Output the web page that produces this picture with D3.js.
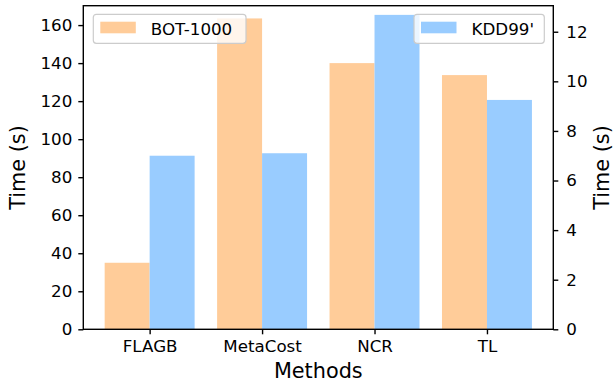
<!DOCTYPE html>
<html>
<head>
<meta charset="utf-8">
<script src="https://cdn.jsdelivr.net/npm/d3@7"></script>
<style>
  body { margin: 0; background: #fff; }
  svg text { font-family: "DejaVu Sans", sans-serif; fill: #000; }
</style>
</head>
<body>
<div id="graph"></div>
<script>
// chart data
const methods = ["FLAGB", "MetaCost", "NCR", "TL"];
const bot1000 = [35.0, 163.5, 140.0, 133.7];   // left axis
const kdd99 = [7.0, 7.1, 12.68, 9.25];         // right axis
const leftTicks = [0, 20, 40, 60, 80, 100, 120, 140, 160];
const rightTicks = [0, 2, 4, 6, 8, 10, 12];

const W = 615, H = 385;
const L = 83.3, R = 553.3, T = 5.7, B = 329.3;

const svg = d3.select("#graph").append("svg").attr("width", W).attr("height", H);

/* scales */
const x = d3.scaleLinear().domain([-0.59, 3.59]).range([L, R]);
const yL = d3.scaleLinear().domain([0, 170.2]).range([B, T]);
const yR = d3.scaleLinear().domain([0, 13.05]).range([B, T]);
const bw = 0.4;

/* orange bars (BOT-1000) */
svg.append("g").selectAll("rect")
    .data(bot1000)
    .enter()
    .append("rect")
    .attr("x", (d, i) => x(i - bw))
    .attr("y", d => yL(d))
    .attr("width", (d, i) => x(i) - x(i - bw))
    .attr("height", d => B - yL(d))
    .style("fill", "#ffcc99");

/* legend box */
function legend(x0, x1, label, color) {
    const g = svg.append("g");
    g.append("rect")
        .attr("x", x0).attr("y", 14.3)
        .attr("width", x1 - x0).attr("height", 29)
        .attr("rx", 3)
        .style("fill", "rgba(255,255,255,0.8)")
        .style("stroke", "#cccccc")
        .style("stroke-width", 1.2);
    g.append("rect")
        .attr("x", x0 + 7).attr("y", 21.7)
        .attr("width", 35.5).attr("height", 11.6)
        .style("fill", color);
    g.append("text")
        .attr("x", x0 + 57.5).attr("y", 34.5)
        .style("font-size", "16.7px")
        .text(label);
}
legend(93.3, 246, "BOT-1000", "#ffcc99");

/* blue bars (KDD99') */
svg.append("g").selectAll("rect")
    .data(kdd99)
    .enter()
    .append("rect")
    .attr("x", (d, i) => x(i))
    .attr("y", d => yR(d))
    .attr("width", (d, i) => x(i + bw) - x(i))
    .attr("height", d => B - yR(d))
    .style("fill", "#99ccff");

legend(414, 544.3, "KDD99'", "#99ccff");

/* axes */
function styleAxis(g) {
    g.selectAll("text").style("font-size", "16.7px").style("font-family", "DejaVu Sans");
    g.selectAll("line").style("stroke", "#000").style("stroke-width", 1.4);
    g.select(".domain").remove();
}

svg.append("g")
    .attr("transform", "translate(0," + B + ")")
    .call(d3.axisBottom(x).tickValues([0, 1, 2, 3]).tickFormat(i => methods[i]).tickSize(5).tickPadding(6))
    .call(styleAxis);

svg.append("g")
    .attr("transform", "translate(" + L + ",0)")
    .call(d3.axisLeft(yL).tickValues(leftTicks).tickSize(5).tickPadding(6))
    .call(styleAxis);

svg.append("g")
    .attr("transform", "translate(" + R + ",0)")
    .call(d3.axisRight(yR).tickValues(rightTicks).tickSize(5).tickPadding(8))
    .call(styleAxis);

/* frame */
svg.append("rect")
    .attr("x", L).attr("y", T)
    .attr("width", R - L).attr("height", B - T)
    .style("fill", "none")
    .style("stroke", "#000")
    .style("stroke-width", 1.4);

/* labels */
svg.append("text")
    .attr("x", (L + R) / 2).attr("y", 378)
    .attr("text-anchor", "middle")
    .style("font-size", "20.8px")
    .text("Methods");

svg.append("text")
    .attr("transform", "translate(25," + (T + B) / 2 + ") rotate(-90)")
    .attr("text-anchor", "middle")
    .style("font-size", "20.8px")
    .text("Time (s)");

svg.append("text")
    .attr("transform", "translate(609," + (T + B) / 2 + ") rotate(-90)")
    .attr("text-anchor", "middle")
    .style("font-size", "20.8px")
    .text("Time (s)");
</script>
</body>
</html>
